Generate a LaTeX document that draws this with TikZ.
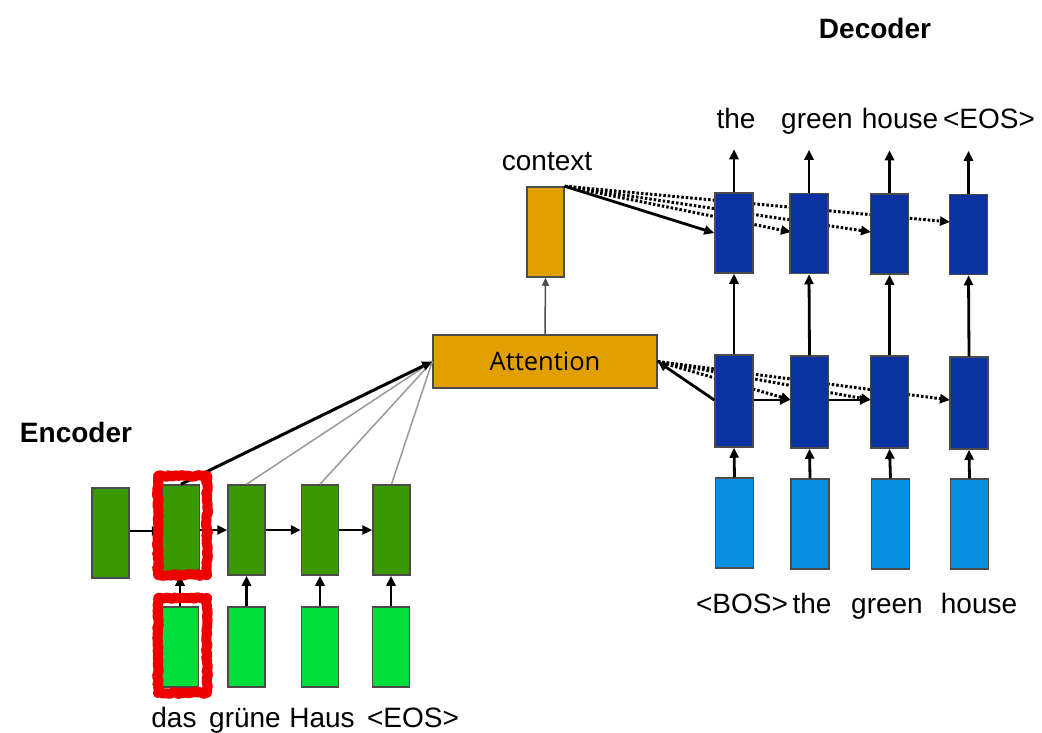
\documentclass[tikz,border=0pt]{standalone}
\usepackage{fontspec}
\setmainfont{Liberation Sans}
\newfontfamily\attfont{Open Sans}
\usetikzlibrary{arrows.meta,decorations.pathmorphing}

\definecolor{encdark}{RGB}{58,152,0}
\definecolor{enclight}{RGB}{0,222,60}
\definecolor{attcol}{RGB}{226,160,0}
\definecolor{decdark}{RGB}{10,50,160}
\definecolor{declight}{RGB}{8,144,224}
\definecolor{edgecol}{RGB}{75,75,75}
\definecolor{hilite}{RGB}{238,0,0}

\tikzset{
  cell/.style={draw=edgecol, line width=1.5pt, inner sep=0pt,
               minimum width=37pt, minimum height=90pt},
  enchid/.style={cell, fill=encdark},
  encin/.style={cell, fill=enclight, minimum height=80pt},
  dechid/.style={cell, fill=decdark, minimum width=38pt},
  decin/.style={cell, fill=declight, minimum width=38pt},
  arr/.style={-{Triangle[length=10pt,width=9pt]}, line width=2.8pt},
  thinarr/.style={-{Triangle[length=8pt,width=7pt]}, line width=1.5pt, draw=edgecol},
  dots/.style={line width=3pt, dash pattern=on 2.5pt off 2pt},
  dotarr/.style={dots, -{Triangle[length=10pt,width=9pt]}},
  feed/.style={line width=1.5pt, draw=black!40},
  word/.style={font=\fontsize{28}{32}\selectfont, inner sep=0pt, anchor=base},
  title/.style={font=\fontsize{28}{32}\selectfont\bfseries, inner sep=0pt},
  ring/.style={draw=hilite, line width=10pt, line join=round,
               decorate, decoration={random steps, segment length=2.5pt, amplitude=1pt}}
}

\begin{document}
\begin{tikzpicture}[x=1pt,y=-1pt]
\useasboundingbox (0,0) rectangle (1042,732);

% ---------- titles ----------
\node[title] (enctitle) at (76,432) {Encoder};
\node[title] (dectitle) at (875,28) {Decoder};

% ---------- encoder ----------
\node[enchid] (e0) at (110.5,533) {};
\node[enchid] (e1) at (181,530) {};
\node[enchid] (e2) at (246.5,530) {};
\node[enchid] (e3) at (320,530) {};
\node[enchid] (e4) at (391.5,530) {};

\node[encin] (i1) at (180,647) {};
\node[encin] (i2) at (246.5,647) {};
\node[encin] (i3) at (320,647) {};
\node[encin] (i4) at (391,647) {};

\node[word] (w1) at (174,727) {das};
\node[word] (w2) at (245,727) {grüne};
\node[word] (w3) at (322,727) {Haus};
\node[word] (w4) at (413,727) {<EOS>};

% ---------- attention and context ----------
\node[cell, fill=attcol, minimum width=224pt, minimum height=53pt,
      font=\attfont\fontsize{25.5}{30}\selectfont] (att) at (545,361.5) {Attention};
\node[cell, fill=attcol] (ctx) at (545.5,232) {};
\node[word] (ctxlbl) at (547,170) {context};

% encoder states feeding the attention block
\draw[feed] (e2.north) -- (att.west);
\draw[feed] (e3.north) -- (att.west);
\draw[feed] (e4.north) -- (att.west);
\draw[arr, line width=3pt] (e1.north) -- (att.west);

\draw[thinarr] (att.north) -- (ctx.south);

% ---------- decoder: links that run behind the cells ----------
\draw[dotarr] (ctx.north east) -- (950,222);
\draw[dotarr] (ctx.north east) -- (871,232);
\draw[dotarr] (ctx.north east) -- (791,232);

\draw[dotarr] (att.east) -- (950,400);
\draw[dotarr] (att.east) -- (871,400);
\draw[dotarr] (att.east) -- (791,400);

% ---------- decoder cells ----------
\node[dechid, minimum height=80pt] (u1) at (734,233) {};
\node[dechid, minimum height=80pt] (u2) at (809,233.5) {};
\node[dechid, minimum height=80pt] (u3) at (889.5,234) {};
\node[dechid, minimum height=80pt] (u4) at (968.5,234.5) {};

\node[dechid, minimum height=92pt] (l1) at (734,401) {};
\node[dechid, minimum height=92pt] (l2) at (809.5,402) {};
\node[dechid, minimum height=92pt] (l3) at (889.5,402) {};
\node[dechid, minimum height=92pt] (l4) at (969,403) {};

\node[decin] (b1) at (734.5,523) {};
\node[decin] (b2) at (810,524) {};
\node[decin] (b3) at (890.5,524) {};
\node[decin] (b4) at (969.5,524) {};

% decoder words
\node[word] (o1) at (736,128) {the};
\node[word] (o2) at (817,128) {green};
\node[word] (o3) at (900,128) {house};
\node[word] (o4) at (989,128) {<EOS>};

\node[word] (d1) at (742,613) {<BOS>};
\node[word] (d2) at (812,613) {the};
\node[word] (d3) at (887,613) {green};
\node[word] (d4) at (979,613) {house};

% output arrows
\foreach \k in {1,2,3,4}{
  \coordinate (top\k) at ([yshift=43pt]u\k.north);
  \draw[arr] (u\k.north) -- (top\k);
  \draw[arr] (l\k.north) -- (u\k.south);
  \draw[arr] (b\k.north) -- (l\k.south);
}

% decoder recurrence and query to attention
\draw[arr] (l1.east |- 0,400) -- (l2.west |- 0,400);
\draw[arr] (l2.east |- 0,400) -- (l3.west |- 0,400);
\draw[arr] (l1.west |- 0,400) -- (att.east);
\draw[arr] (ctx.north east) -- (u1.west);

% ---------- encoder recurrence and inputs ----------
\draw[arr] (e0.east |- 0,531) -- (e1.west |- 0,531);
\draw[arr] (e1.east) -- (e2.west);
\draw[arr] (e2.east) -- (e3.west);
\draw[arr] (e3.east) -- (e4.west);
\draw[arr] (i1.north) -- (i1.north |- e1.south);
\draw[arr] (i2.north) -- (i2.north |- e2.south);
\draw[arr] (i3.north) -- (i3.north |- e3.south);
\draw[arr] (i4.north) -- (i4.north |- e4.south);

% ---------- highlight around the first word ----------
\draw[ring] (158,476) rectangle (207,575);
\draw[ring] (158,598) rectangle (207,693);

\end{tikzpicture}
\end{document}
